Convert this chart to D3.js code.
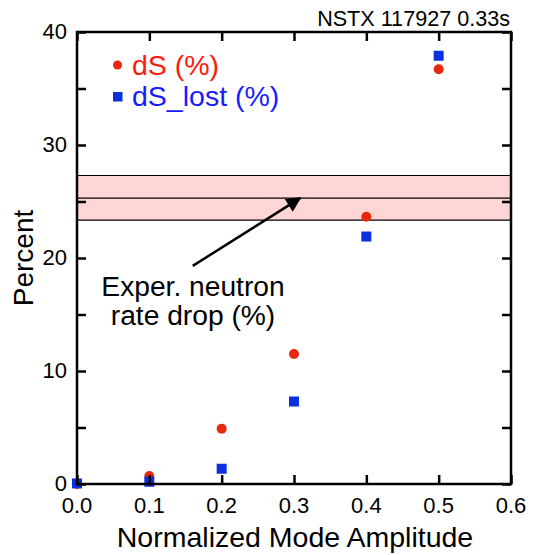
<!DOCTYPE html>
<html>
<head>
<meta charset="utf-8">
<script src="https://cdn.jsdelivr.net/npm/d3@7"></script>
<style>
  body { margin: 0; background: #fff; }
  text { font-family: "Liberation Sans", Arial, Helvetica, sans-serif; }
</style>
</head>
<body>
<script>
// data
const amplitude = [0.0, 0.1, 0.2, 0.3, 0.4, 0.5];
const dS = [0.0, 0.7, 4.9, 11.5, 23.65, 36.7];
const dSLost = [0.05, 0.2, 1.35, 7.3, 21.9, 37.9];
const neutronDrop = [23.35, 25.3, 27.3]; // low, mid, high
const xTickLabels = ["0.0", "0.1", "0.2", "0.3", "0.4", "0.5", "0.6"];
const yTickLabels = ["0", "10", "20", "30", "40"];

const width = 544, height = 555;
const margin = { top: 32, right: 33, bottom: 71, left: 77 };

const svg = d3.select("body").append("svg")
  .attr("width", width)
  .attr("height", height);

const x = d3.scaleLinear().domain([0, 0.6]).range([margin.left, width - margin.right]);
const y = d3.scaleLinear().domain([0, 40]).range([height - margin.bottom, margin.top]);

const red = "#e8280c";
const blue = "#0a30e0";

// experimental band
svg.append("rect")
  .attr("x", x(0))
  .attr("width", x(0.6) - x(0))
  .attr("y", y(neutronDrop[2]))
  .attr("height", y(neutronDrop[0]) - y(neutronDrop[2]))
  .attr("fill", "#ffd6d6");

svg.selectAll(".bandline")
  .data(neutronDrop)
  .join("line")
  .attr("class", "bandline")
  .attr("x1", x(0)).attr("x2", x(0.6))
  .attr("y1", d => y(d)).attr("y2", d => y(d))
  .attr("stroke", "#000")
  .attr("stroke-width", 1.2);

// points
const pts = amplitude.map((a, i) => ({ a, s: dS[i], l: dSLost[i] }));

svg.selectAll(".ds")
  .data(pts)
  .join("circle")
  .attr("class", "ds")
  .attr("cx", d => x(d.a))
  .attr("cy", d => y(d.s))
  .attr("r", 5)
  .attr("fill", red);

svg.selectAll(".lost")
  .data(pts)
  .join("rect")
  .attr("class", "lost")
  .attr("x", d => x(d.a) - 5)
  .attr("y", d => y(d.l) - 5)
  .attr("width", 10)
  .attr("height", 10)
  .attr("fill", blue);

// axes (ticks point inward, on all four sides)
const xt = d3.range(0, 0.61, 0.1);
const yt = d3.range(0, 41, 5);

svg.append("g")
  .attr("transform", `translate(0,${y(0)})`)
  .call(d3.axisTop(x).tickValues(xt).tickSize(9).tickFormat(""))
  .call(g => g.select(".domain").remove());
svg.append("g")
  .attr("transform", `translate(0,${y(40)})`)
  .call(d3.axisBottom(x).tickValues(xt).tickSize(9).tickFormat(""))
  .call(g => g.select(".domain").remove());
svg.append("g")
  .attr("transform", `translate(${x(0)},0)`)
  .call(d3.axisRight(y).tickValues(yt).tickSize(9).tickFormat(""))
  .call(g => g.select(".domain").remove());
svg.append("g")
  .attr("transform", `translate(${x(0.6)},0)`)
  .call(d3.axisLeft(y).tickValues(yt).tickSize(9).tickFormat(""))
  .call(g => g.select(".domain").remove());
svg.selectAll(".tick line").attr("stroke", "#000").attr("stroke-width", 2.5);

svg.append("rect")
  .attr("x", x(0)).attr("y", y(40))
  .attr("width", x(0.6) - x(0))
  .attr("height", y(0) - y(40))
  .attr("fill", "none")
  .attr("stroke", "#000")
  .attr("stroke-width", 2.5);

// tick labels
svg.selectAll(".xlab")
  .data(xTickLabels)
  .join("text")
  .attr("class", "xlab")
  .attr("x", d => x(+d))
  .attr("y", y(0) + 29)
  .attr("text-anchor", "middle")
  .attr("font-size", 22)
  .text(d => d);

svg.selectAll(".ylab")
  .data(yTickLabels)
  .join("text")
  .attr("class", "ylab")
  .attr("x", x(0) - 10)
  .attr("y", d => y(+d) + 6.5)
  .attr("text-anchor", "end")
  .attr("font-size", 22)
  .text(d => d);

// axis titles
svg.append("text")
  .attr("x", (x(0) + x(0.6)) / 2 + 1)
  .attr("y", 547)
  .attr("text-anchor", "middle")
  .attr("font-size", 28.5)
  .text("Normalized Mode Amplitude");

svg.append("text")
  .attr("transform", `translate(33,${(y(0) + y(40)) / 2}) rotate(-90)`)
  .attr("text-anchor", "middle")
  .attr("font-size", 28)
  .text("Percent");

svg.append("text")
  .attr("x", 510)
  .attr("y", 26)
  .attr("text-anchor", "end")
  .attr("font-size", 21.6)
  .text("NSTX 117927 0.33s");

// legend
svg.append("circle").attr("cx", 117.5).attr("cy", 65).attr("r", 4.5).attr("fill", red);
svg.append("rect").attr("x", 113).attr("y", 92).attr("width", 9.5).attr("height", 9.5).attr("fill", blue);
svg.append("text").attr("x", 132).attr("y", 75).attr("font-size", 28.5).attr("fill", "#ff1a0a").text("dS (%)");
svg.append("text").attr("x", 132).attr("y", 106).attr("font-size", 28.5).attr("fill", "#1a1aff").text("dS_lost (%)");

// annotation with arrow
svg.append("defs").append("marker")
  .attr("id", "head")
  .attr("viewBox", "0 0 10 10")
  .attr("refX", 9).attr("refY", 5)
  .attr("markerWidth", 7).attr("markerHeight", 6)
  .attr("markerUnits", "strokeWidth")
  .attr("orient", "auto")
  .append("path").attr("d", "M0,0 L10,5 L0,10 z").attr("fill", "#000");

svg.append("line")
  .attr("x1", x(0.16)).attr("y1", y(19.3))
  .attr("x2", x(0.3085)).attr("y2", y(neutronDrop[1]))
  .attr("stroke", "#000")
  .attr("stroke-width", 2.5)
  .attr("marker-end", "url(#head)");

const note = svg.append("text")
  .attr("text-anchor", "middle")
  .attr("font-size", 28.2);
note.append("tspan").attr("x", 193).attr("y", 296).text("Exper. neutron");
note.append("tspan").attr("x", 193).attr("y", 325).text("rate drop (%)");
</script>
</body>
</html>
